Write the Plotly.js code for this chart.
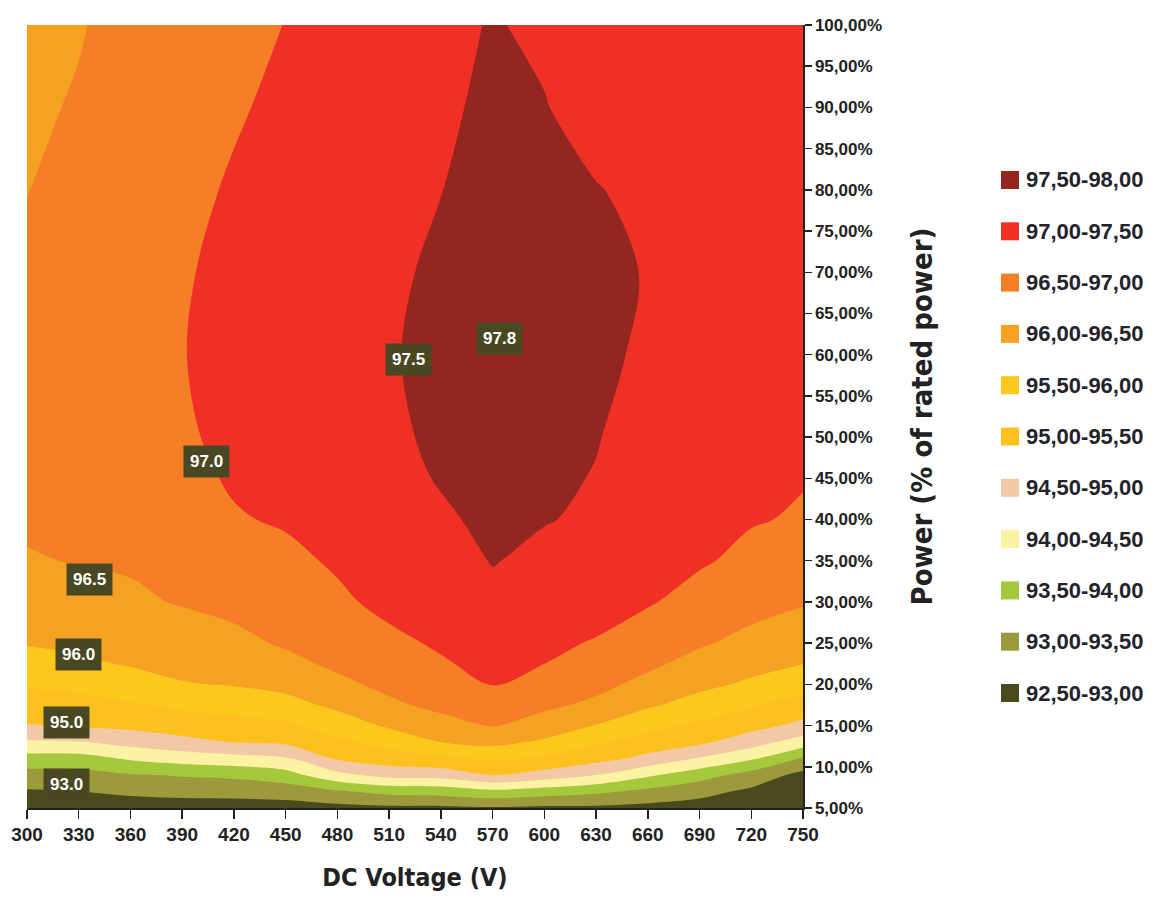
<!DOCTYPE html>
<html>
<head>
<meta charset="utf-8">
<script src="https://cdn.plot.ly/plotly-3.0.1.min.js"></script>
<style>
html,body{margin:0;padding:0;background:#ffffff;}
#chart{width:1155px;height:905px;}
</style>
</head>
<body>
<div id="chart"></div>
<script>
// DC voltage columns (V)
const voltage = [300, 330, 360, 390, 420, 450, 480, 510, 540, 570, 600, 630, 660, 690, 720, 750];
// Power rows (% of rated power)
const powerPct = [5, 7, 9, 11, 13, 15, 17.5, 20, 22.5, 25, 30, 35, 40, 45, 50, 60, 70, 80, 90, 100];
// Efficiency (%): one row per power level, one value per voltage
const efficiency = [
  [92.70, 92.70, 92.75, 92.80, 92.80, 92.80, 92.85, 92.90, 92.90, 92.95, 92.90, 92.90, 92.85, 92.80, 92.65, 92.55],
  [92.95, 93.00, 93.09, 93.13, 93.15, 93.21, 93.44, 93.64, 93.70, 93.88, 93.75, 93.60, 93.38, 93.15, 92.90, 92.70],
  [93.31, 93.33, 93.46, 93.54, 93.60, 93.80, 94.36, 94.67, 94.70, 95.00, 94.80, 94.50, 94.08, 93.71, 93.30, 92.85],
  [93.81, 93.81, 94.06, 94.22, 94.33, 94.44, 95.07, 95.25, 95.41, 95.59, 95.42, 95.17, 94.86, 94.46, 94.07, 93.45],
  [94.44, 94.47, 94.68, 94.86, 95.02, 95.10, 95.40, 95.67, 96.00, 96.13, 95.93, 95.58, 95.29, 95.10, 94.72, 94.27],
  [94.97, 95.05, 95.12, 95.24, 95.32, 95.42, 95.73, 96.07, 96.34, 96.53, 96.28, 95.98, 95.65, 95.42, 95.17, 94.87],
  [95.27, 95.34, 95.45, 95.60, 95.69, 95.83, 96.11, 96.42, 96.61, 96.79, 96.60, 96.40, 96.07, 95.81, 95.55, 95.29],
  [95.55, 95.63, 95.78, 95.97, 96.03, 96.15, 96.40, 96.61, 96.79, 97.01, 96.80, 96.63, 96.37, 96.12, 95.92, 95.65],
  [95.82, 95.92, 96.04, 96.14, 96.21, 96.39, 96.58, 96.76, 96.96, 97.11, 97.00, 96.80, 96.59, 96.35, 96.16, 96.01],
  [96.03, 96.09, 96.17, 96.29, 96.39, 96.55, 96.70, 96.91, 97.05, 97.20, 97.08, 96.97, 96.75, 96.55, 96.37, 96.20],
  [96.25, 96.34, 96.43, 96.53, 96.62, 96.73, 96.93, 97.10, 97.18, 97.38, 97.24, 97.17, 97.04, 96.84, 96.66, 96.54],
  [96.47, 96.52, 96.55, 96.65, 96.79, 96.91, 97.05, 97.20, 97.31, 97.52, 97.40, 97.33, 97.15, 97.05, 96.89, 96.75],
  [96.56, 96.59, 96.63, 96.79, 96.97, 97.04, 97.12, 97.30, 97.44, 97.59, 97.52, 97.44, 97.23, 97.12, 97.03, 96.96],
  [96.62, 96.67, 96.70, 96.90, 97.04, 97.11, 97.19, 97.37, 97.53, 97.65, 97.58, 97.48, 97.29, 97.17, 97.07, 97.02],
  [96.69, 96.74, 96.78, 96.95, 97.09, 97.18, 97.26, 97.40, 97.60, 97.72, 97.64, 97.52, 97.34, 97.21, 97.10, 97.05],
  [96.70, 96.83, 96.93, 96.98, 97.20, 97.33, 97.39, 97.43, 97.72, 97.84, 97.76, 97.62, 97.41, 97.27, 97.15, 97.08],
  [96.59, 96.74, 96.87, 96.95, 97.14, 97.28, 97.37, 97.40, 97.60, 97.80, 97.73, 97.64, 97.47, 97.30, 97.18, 97.10],
  [96.49, 96.64, 96.82, 96.88, 97.05, 97.19, 97.32, 97.38, 97.49, 97.71, 97.62, 97.52, 97.40, 97.25, 97.15, 97.08],
  [96.40, 96.55, 96.76, 96.81, 96.95, 97.10, 97.26, 97.37, 97.40, 97.62, 97.52, 97.33, 97.30, 97.18, 97.10, 97.05],
  [96.30, 96.46, 96.70, 96.74, 96.85, 97.01, 97.20, 97.36, 97.38, 97.53, 97.42, 97.22, 97.18, 97.10, 97.05, 97.02]
];

// Efficiency bands (low -> high)
const bandStart = 92.5;
const bandEnd = 98.0;
const bandSize = 0.5;
const bandColors = ['#4b4a1f', '#9c9a3c', '#a5c83c', '#fbf3a3', '#f2c8a6', '#fcc11e', '#fdc81e', '#f5a223', '#f47f27', '#ef3027', '#93261f'];
const bandLabels = ['92,50-93,00', '93,00-93,50', '93,50-94,00', '94,00-94,50', '94,50-95,00', '95,00-95,50', '95,50-96,00', '96,00-96,50', '96,50-97,00', '97,00-97,50', '97,50-98,00'];

// Axis ticks
const xTickVals = [300, 330, 360, 390, 420, 450, 480, 510, 540, 570, 600, 630, 660, 690, 720, 750];
const yTickVals = [5, 10, 15, 20, 25, 30, 35, 40, 45, 50, 55, 60, 65, 70, 75, 80, 85, 90, 95, 100];
const yTickText = ['5,00%', '10,00%', '15,00%', '20,00%', '25,00%', '30,00%', '35,00%', '40,00%', '45,00%', '50,00%',
                   '55,00%', '60,00%', '65,00%', '70,00%', '75,00%', '80,00%', '85,00%', '90,00%', '95,00%', '100,00%'];

// Contour labels drawn on the map
const contourLabelText = ['97.8', '97.5', '97.0', '96.5', '96.0', '95.0', '93.0'];
const contourLabelVoltage = [574, 521, 404, 336, 330, 323, 323];
const contourLabelPower = [62, 59.4, 47.1, 32.7, 23.6, 15.4, 7.9];

// ---- build colorscale: band k is sampled at (k+1)/12 by Plotly's fill color map
const nLevels = Math.round((bandEnd - bandStart) / bandSize) + 1; // 12
const colorscale = [[0, bandColors[0]]];
for (let k = 0; k < bandColors.length; k++) {
  colorscale.push([(k + 1) / nLevels, bandColors[k]]);
}
colorscale.push([1, bandColors[bandColors.length - 1]]);

const trace = {
  type: 'contour',
  x: voltage,
  y: powerPct,
  z: efficiency,
  autocontour: false,
  contours: {start: bandStart, end: bandEnd, size: bandSize, coloring: 'fill', showlines: false},
  line: {width: 0, smoothing: 1},
  colorscale: colorscale,
  showscale: false,
  hoverinfo: 'skip'
};

const tickFont = 'Liberation Sans, Arial, sans-serif';
const titleFont = 'DejaVu Sans Condensed, Liberation Sans, sans-serif';

const annotations = [];
for (let i = 0; i < contourLabelText.length; i++) {
  annotations.push({
    x: contourLabelVoltage[i], y: contourLabelPower[i], xref: 'x', yref: 'y',
    text: contourLabelText[i], showarrow: false,
    font: {family: tickFont, size: 17, color: '#ffffff', weight: 'bold'},
    bgcolor: '#4a4822', borderpad: 6
  });
}

// custom legend on the right (paper coordinates)
const plotL = 27, plotR = 803, plotT = 25, plotB = 808;
const pw = plotR - plotL, ph = plotB - plotT;
const px2x = p => (p - plotL) / pw;
const py2y = p => (plotB - p) / ph;
const shapes = [];
for (let i = 0; i < bandLabels.length; i++) {
  const k = bandLabels.length - 1 - i; // top is the highest band
  const cy = 180 + 51.3 * i;
  shapes.push({
    type: 'rect', xref: 'paper', yref: 'paper',
    x0: px2x(1001), x1: px2x(1019), y0: py2y(cy + 9), y1: py2y(cy - 9),
    fillcolor: bandColors[k], line: {width: 0}
  });
  annotations.push({
    xref: 'paper', yref: 'paper', x: px2x(1024), y: py2y(cy),
    xanchor: 'left', yanchor: 'middle', showarrow: false,
    text: bandLabels[k],
    font: {family: tickFont, size: 22, color: '#23232b', weight: 'bold'}
  });
}

const layout = {
  width: 1155, height: 905,
  margin: {l: plotL, r: 1155 - plotR, t: plotT, b: 905 - plotB, pad: 0},
  paper_bgcolor: '#ffffff', plot_bgcolor: '#ffffff',
  showlegend: false,
  xaxis: {
    range: [300, 750], tickmode: 'array', tickvals: xTickVals, ticktext: xTickVals.map(String),
    ticks: 'outside', ticklen: 9, tickwidth: 1.5, tickcolor: '#222222',
    showline: true, linecolor: '#222222', linewidth: 1.5,
    showgrid: false, zeroline: false,
    tickfont: {family: tickFont, size: 19, color: '#222222', weight: 'bold'},
    title: {text: 'DC Voltage (V)', standoff: 24,
            font: {family: titleFont, size: 25, color: '#222222', weight: 'bold'}}
  },
  yaxis: {
    side: 'right', range: [5, 100], tickmode: 'array', tickvals: yTickVals, ticktext: yTickText,
    ticks: 'outside', ticklen: 7, tickwidth: 1.5, tickcolor: '#222222',
    showline: true, linecolor: '#222222', linewidth: 1.5,
    showgrid: false, zeroline: false,
    tickfont: {family: tickFont, size: 17, color: '#222222', weight: 'bold'},
    title: {text: 'Power (% of rated power)', standoff: 30,
            font: {family: titleFont, size: 29, color: '#222222', weight: 'bold'}}
  },
  annotations: annotations,
  shapes: shapes
};

Plotly.newPlot('chart', [trace], layout, {staticPlot: true, displayModeBar: false});
</script>
</body>
</html>
